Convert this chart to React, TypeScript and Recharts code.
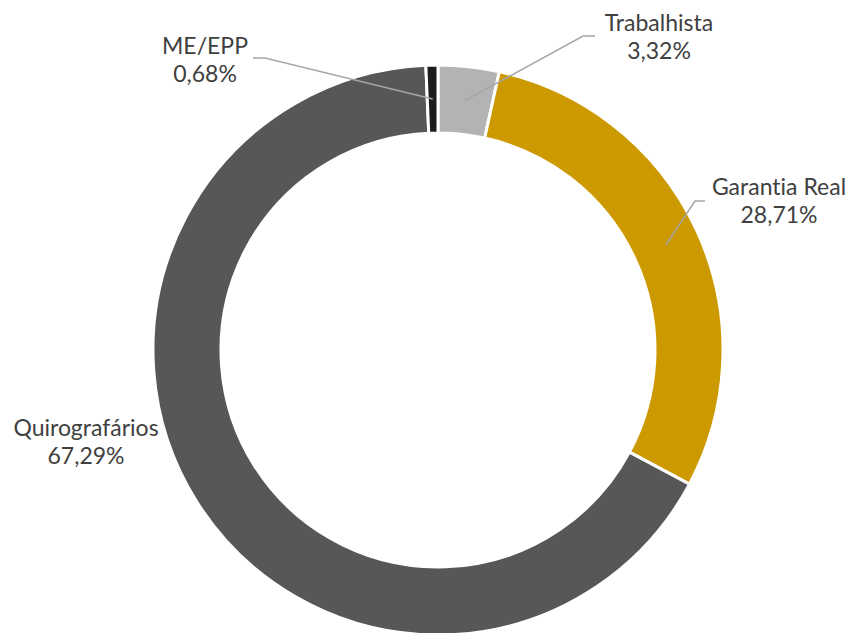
import React from "react";
import { PieChart, Pie, Cell } from "recharts";

const categories = ["Trabalhista", "Garantia Real", "Quirografários", "ME/EPP"];
// slice sizes as measured from the ring geometry
const values = [3.45, 29.35, 66.52, 0.68];
const valueLabels = ["3,32%", "28,71%", "67,29%", "0,68%"];
const colors = ["#b3b3b3", "#cc9900", "#575757", "#1c1c1c"];

// label layout: text center x, first baseline y, optional elbow (x,y) and end x of leader
const labelLayout = [
  { tx: 659, ty: 31, elbow: [583, 36], endX: 595 },
  { tx: 779, ty: 195, elbow: [695, 201], endX: 705 },
  { tx: 86, ty: 436, elbow: null as null | number[], endX: 0 },
  { tx: 205, ty: 54, elbow: [265, 58], endX: 253 },
];

const data = categories.map((name, i) => ({ name, value: values[i], label: valueLabels[i] }));

const RAD = Math.PI / 180;

const renderLabel = (props: any) => {
  const { cx, cy, midAngle, innerRadius, outerRadius, index } = props;
  const lay = labelLayout[index];
  const r = (innerRadius + outerRadius) / 2;
  const sx = cx + r * Math.cos(-midAngle * RAD);
  const sy = cy + r * Math.sin(-midAngle * RAD);
  return (
    <g key={`lbl-${index}`}>
      {lay.elbow && (
        <polyline
          points={`${sx},${sy} ${lay.elbow[0]},${lay.elbow[1]} ${lay.endX},${lay.elbow[1]}`}
          fill="none"
          stroke="#a6a6a6"
          strokeWidth={1.5}
        />
      )}
      <text
        x={lay.tx}
        y={lay.ty}
        textAnchor="middle"
        fill="#404040"
        fontSize={23}
        fontFamily="Lato, 'Open Sans', sans-serif"
        style={{ fontVariantLigatures: "none" }}
      >
        <tspan x={lay.tx} y={lay.ty}>{categories[index]}</tspan>
        <tspan x={lay.tx} y={lay.ty + 28}>{valueLabels[index]}</tspan>
      </text>
    </g>
  );
};

export default function App() {
  return (
    <div style={{ position: "absolute", left: 0, top: 0, width: 853, height: 633, background: "#fff" }}>
      <PieChart width={853} height={633} margin={{ top: 0, right: 0, bottom: 0, left: 0 }}>
        <Pie
          data={data}
          dataKey="value"
          nameKey="name"
          cx={438}
          cy={350}
          innerRadius={217}
          outerRadius={285}
          startAngle={90}
          endAngle={-270}
          stroke="#ffffff"
          strokeWidth={3}
          label={renderLabel}
          labelLine={false}
          isAnimationActive={false}
        >
          {data.map((d, i) => (
            <Cell key={d.name} fill={colors[i]} />
          ))}
        </Pie>
      </PieChart>
    </div>
  );
}
